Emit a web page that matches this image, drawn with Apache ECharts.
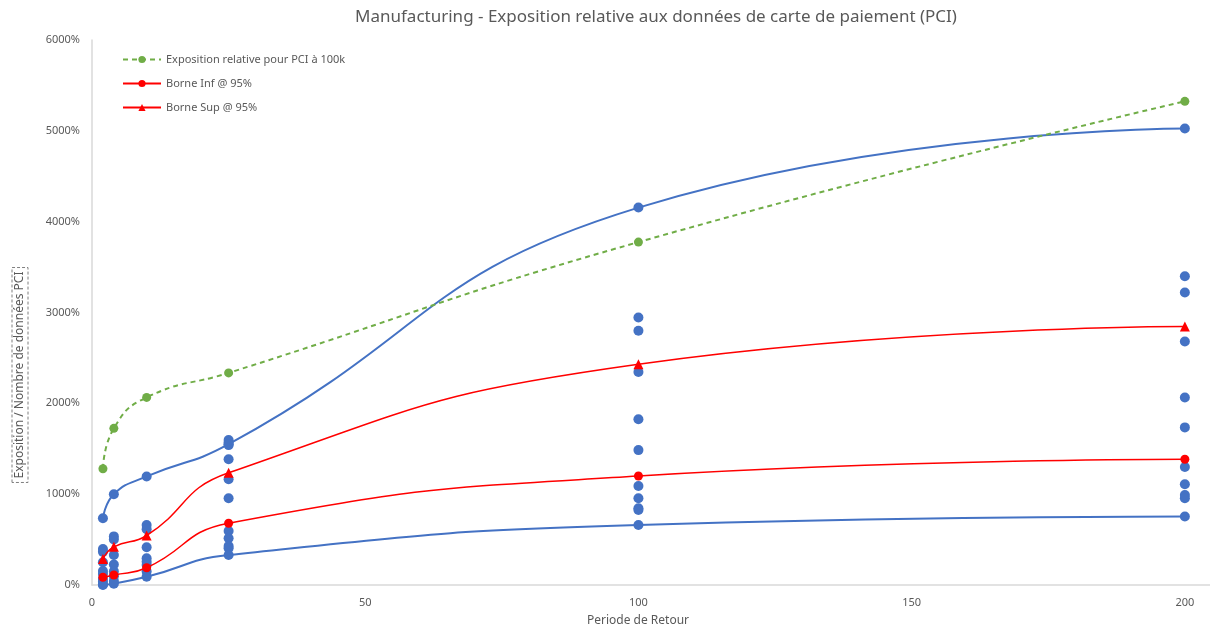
<!DOCTYPE html>
<html>
<head>
<meta charset="utf-8">
<script src="https://cdn.jsdelivr.net/npm/echarts@6/dist/echarts.min.js"></script>
<style>
  html, body { margin: 0; padding: 0; background: #fff; }
  #main { width: 1210px; height: 632px; }
</style>
</head>
<body>
<div id="main"></div>
<script>
// periodes de retour (axe x)
var periods = [2, 4, 10, 25, 100, 200];

// series (valeurs en %)
var expoPCI100k = [1280, 1725, 2065, 2335, 3775, 5325];
var borneInf = [85, 110, 190, 680, 1200, 1385];
var borneSup = [285, 420, 545, 1235, 2430, 2845];
var maxExpo = [735, 1000, 1195, 1550, 4155, 5025];
var minExpo = [5, 15, 90, 330, 660, 755];

// autres observations par periode
var obsP2 = [395, 365, 250, 155, 120, 65, 35, 0];
var obsP4 = [535, 500, 330, 225, 150, 95, 45];
var obsP10 = [660, 615, 415, 295, 255, 220, 150];
var obsP25 = [1595, 1570, 1540, 1385, 1165, 955, 595, 515, 430, 405];
var obsP100 = [2945, 2800, 2345, 1825, 1485, 1090, 955, 845, 825];
var obsP200 = [3400, 3220, 2680, 2065, 1735, 1300, 1110, 990, 955];

var yTicks = [0, 1000, 2000, 3000, 4000, 5000, 6000];

var obsAll = [obsP2, obsP4, obsP10, obsP25, obsP100, obsP200];
var scatterData = [];
periods.forEach(function (p, i) {
  obsAll[i].forEach(function (v) { scatterData.push([p, v]); });
});

function pair(arr) {
  return periods.map(function (p, i) { return [p, arr[i]]; });
}

var chart = echarts.init(document.getElementById('main'), null, { renderer: 'canvas' });

var grey = '#595959';
var font = '"Noto Sans", "Open Sans", sans-serif';

var option = {
  animation: false,
  textStyle: { fontFamily: font },
  title: {
    text: 'Manufacturing - Exposition relative aux données de carte de paiement (PCI)',
    left: 651,
    textAlign: 'center',
    top: 4,
    textStyle: { color: grey, fontSize: 17, fontWeight: 'normal', fontFamily: font }
  },
  legend: {
    orient: 'vertical',
    left: 117,
    top: 49,
    itemWidth: 38,
    itemHeight: 9,
    itemGap: 13,
    data: ['Exposition relative pour PCI à 100k', 'Borne Inf @ 95%', 'Borne Sup @ 95%'],
    textStyle: { color: grey, fontSize: 11, fontFamily: font }
  },
  // l'axe x se prolonge un peu au-dela de 200, jusqu'au bord
  grid: { left: 92, right: 0, top: 40, bottom: 46 },
  xAxis: {
    type: 'value',
    min: 0,
    max: 204.6,
    interval: 50,
    name: 'Periode de Retour',
    nameLocation: 'middle',
    nameGap: 30,
    nameTextStyle: { color: grey, fontSize: 12, padding: [0, 26, 0, 0] },
    axisLine: { show: true, lineStyle: { color: '#d9d9d9', width: 1.5 } },
    axisTick: { show: false },
    splitLine: { show: false },
    axisLabel: {
      color: grey,
      fontSize: 11,
      margin: 12,
      showMaxLabel: false,
      formatter: function (v) { return v % 50 === 0 ? String(v) : ''; }
    }
  },
  yAxis: {
    type: 'value',
    min: yTicks[0],
    max: yTicks[yTicks.length - 1],
    interval: 1000,
    axisLine: { show: true, lineStyle: { color: '#d9d9d9', width: 1.5 } },
    axisTick: { show: false },
    splitLine: { show: false },
    axisLabel: {
      color: grey,
      fontSize: 11,
      margin: 12,
      formatter: function (v) { return v + '%'; }
    }
  },
  graphic: [{
    type: 'text',
    x: 20,
    y: 375,
    rotation: Math.PI / 2,
    style: {
      text: 'Exposition / Nombre de données PCI',
      fill: grey,
      font: '12px ' + font,
      align: 'center',
      verticalAlign: 'middle',
      borderColor: '#7f7f7f',
      borderWidth: 1,
      borderDash: [3, 2],
      padding: [2, 4, 2, 4]
    }
  }],
  series: [
    {
      name: 'Observations',
      type: 'scatter',
      symbol: 'circle',
      symbolSize: 10,
      itemStyle: { color: '#4472C4', opacity: 1 },
      data: scatterData,
      z: 2
    },
    {
      name: 'Max',
      type: 'line',
      smooth: 0.5,
      symbol: 'circle',
      symbolSize: 10,
      showAllSymbol: true,
      lineStyle: { color: '#4472C4', width: 2 },
      itemStyle: { color: '#4472C4' },
      data: pair(maxExpo),
      z: 3
    },
    {
      name: 'Min',
      type: 'line',
      smooth: 0.5,
      symbol: 'circle',
      symbolSize: 10,
      lineStyle: { color: '#4472C4', width: 2 },
      itemStyle: { color: '#4472C4' },
      data: pair(minExpo),
      z: 3
    },
    {
      name: 'Borne Inf @ 95%',
      type: 'line',
      smooth: 0.5,
      symbol: 'circle',
      symbolSize: 9,
      lineStyle: { color: '#FF0000', width: 1.5 },
      itemStyle: { color: '#FF0000' },
      data: pair(borneInf),
      z: 4
    },
    {
      name: 'Borne Sup @ 95%',
      type: 'line',
      smooth: 0.5,
      symbol: 'triangle',
      symbolSize: 10,
      lineStyle: { color: '#FF0000', width: 1.5 },
      itemStyle: { color: '#FF0000' },
      data: pair(borneSup),
      z: 4
    },
    {
      name: 'Exposition relative pour PCI à 100k',
      type: 'line',
      smooth: 0.5,
      symbol: 'circle',
      symbolSize: 9,
      lineStyle: { color: '#70AD47', width: 2, type: [5, 4] },
      itemStyle: { color: '#70AD47' },
      data: pair(expoPCI100k),
      z: 5
    }
  ]
};

chart.setOption(option);
</script>
</body>
</html>
